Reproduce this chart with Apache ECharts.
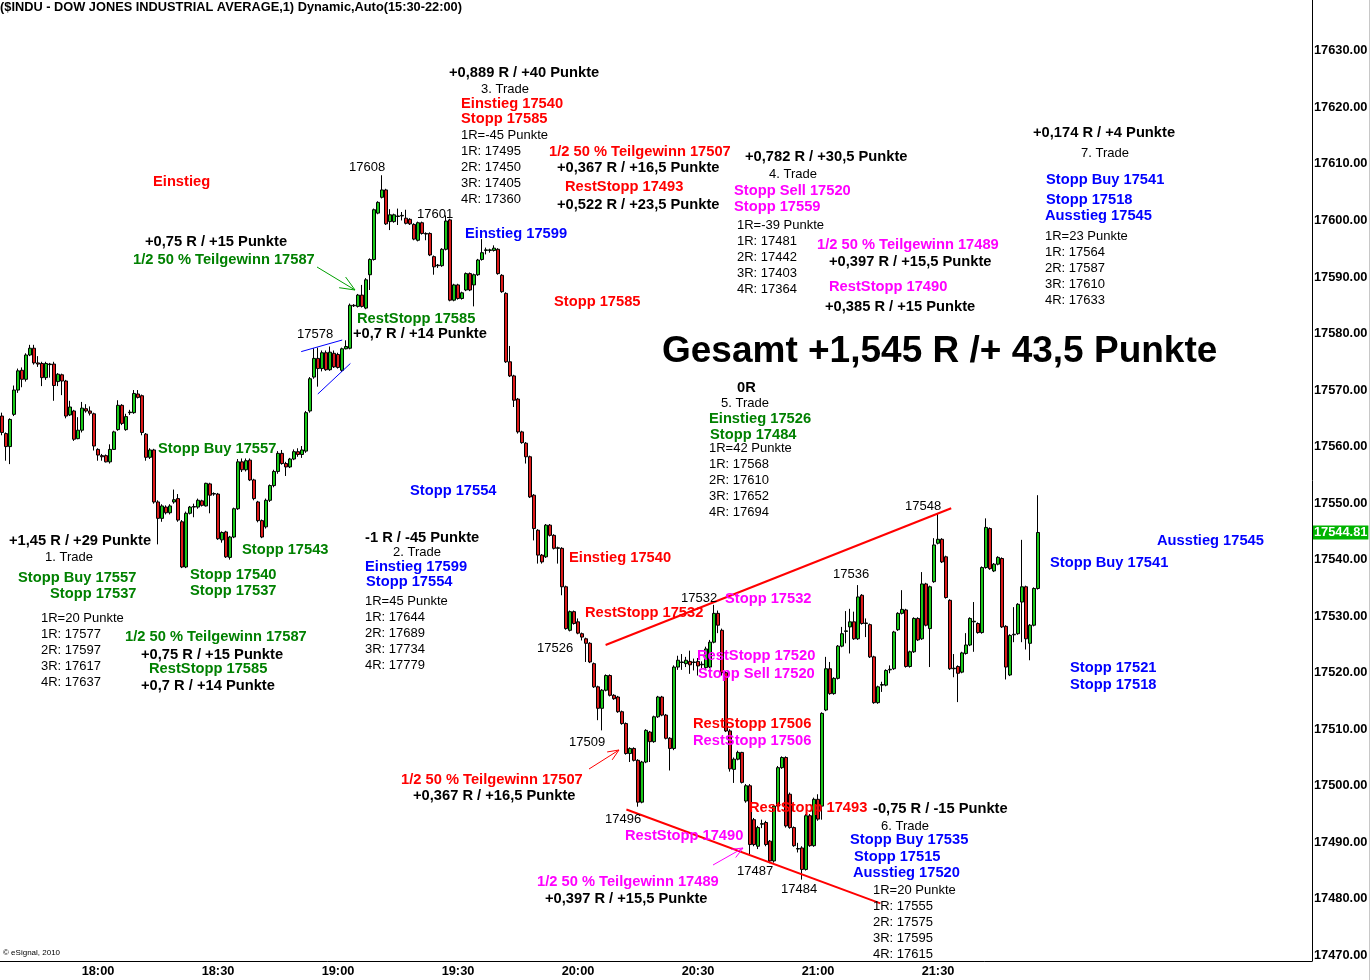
<!DOCTYPE html>
<html><head><meta charset="utf-8">
<script src="https://cdn.jsdelivr.net/npm/echarts@6/dist/echarts.min.js"></script>
<style>html,body{margin:0;padding:0;background:#fff}#c{width:1371px;height:980px}</style>
</head><body><div id="c"></div>
<script>
// ---- time slots: one per minute from 17:36 to 23:03 ----
const startMinute = 17 * 60 + 36;
const slotCount = 328;
const categories = [];
for (let i = 0; i < slotCount; i++) {
  const m = startMinute + i;
  categories.push(String(Math.floor(m / 60)).padStart(2, '0') + ':' + String(m % 60).padStart(2, '0'));
}
const tickLabels = ['18:00', '18:30', '19:00', '19:30', '20:00', '20:30', '21:00', '21:30'];
const yTicks = [17470, 17480, 17490, 17500, 17510, 17520, 17530, 17540, 17550, 17560, 17570, 17580, 17590, 17600, 17610, 17620, 17630];

// ---- 1-minute candles: [open, close, low, high] ----
const candles = [
[17565.4,17562.5,17562.0,17566.0],[17562.3,17560.0,17557.5,17562.5],[17560.0,17564.8,17556.9,17565.0],[17565.7,17570.0,17565.4,17570.8],
[17570.0,17573.4,17569.5,17573.8],[17573.5,17571.9,17570.5,17574.0],[17571.9,17576.2,17571.5,17576.5],[17576.2,17577.4,17576.0,17578.0],
[17577.4,17574.8,17574.5,17578.0],[17574.8,17574.6,17574.1,17576.0],[17574.7,17572.2,17570.7,17575.0],[17572.2,17574.7,17571.8,17575.0],
[17574.5,17574.6,17572.2,17574.8],[17574.6,17570.8,17568.1,17575.0],[17571.5,17572.8,17570.7,17573.0],[17572.7,17571.6,17569.1,17572.9],
[17571.6,17565.4,17565.0,17571.8],[17565.6,17567.0,17565.4,17568.1],[17566.3,17561.3,17561.0,17566.5],[17561.4,17562.9,17561.3,17565.2],
[17562.9,17566.8,17562.5,17567.9],[17566.7,17566.3,17566.0,17567.5],[17566.3,17565.9,17565.5,17567.1],[17565.8,17560.1,17559.3,17566.0],
[17559.5,17558.5,17557.5,17559.7],[17558.4,17558.2,17557.5,17558.7],[17558.4,17557.3,17557.2,17558.6],[17557.3,17559.5,17557.0,17560.4],
[17559.5,17562.6,17559.4,17562.8],[17563.0,17567.3,17562.8,17568.2],[17567.3,17564.1,17563.8,17567.5],[17563.0,17565.3,17562.8,17565.8],
[17566.0,17566.1,17565.6,17566.5],[17566.0,17569.4,17565.8,17570.0],[17569.3,17568.7,17568.5,17570.0],[17569.0,17562.5,17562.0,17569.2],
[17562.2,17558.1,17557.5,17562.4],[17558.1,17559.4,17557.8,17559.7],[17559.4,17550.2,17549.9,17559.6],[17550.2,17547.3,17542.7,17550.5],
[17547.3,17549.5,17546.7,17549.8],[17549.3,17548.3,17548.0,17549.6],[17548.3,17549.5,17548.0,17549.8],[17550.2,17550.6,17549.9,17552.4],
[17550.8,17547.0,17546.7,17551.6],[17546.7,17538.7,17538.5,17547.0],[17538.7,17548.2,17538.5,17548.5],[17548.2,17549.3,17548.0,17549.5],
[17549.3,17549.4,17547.5,17549.9],[17549.3,17550.5,17549.0,17550.8],[17550.4,17549.6,17549.4,17550.6],[17549.5,17553.5,17549.4,17553.6],
[17553.4,17551.4,17548.2,17553.6],[17551.6,17551.7,17551.3,17551.9],[17551.6,17543.7,17543.5,17551.8],[17543.5,17544.8,17543.0,17545.0],
[17544.9,17540.5,17540.3,17545.1],[17540.4,17544.0,17540.0,17544.2],[17544.0,17549.0,17543.8,17549.2],[17549.0,17557.3,17548.8,17557.8],
[17557.3,17555.9,17555.5,17557.9],[17555.9,17557.5,17555.6,17557.9],[17557.6,17554.1,17553.9,17557.9],[17554.1,17550.8,17550.5,17554.3],
[17550.2,17546.9,17546.6,17550.4],[17546.9,17544.0,17543.8,17547.1],[17545.8,17550.5,17545.5,17550.8],[17550.5,17553.1,17550.2,17553.3],
[17553.1,17555.6,17552.8,17555.9],[17555.6,17558.8,17555.2,17559.2],[17558.8,17557.0,17556.8,17559.4],[17557.0,17556.4,17554.8,17557.3],
[17556.4,17557.8,17556.2,17558.0],[17557.8,17559.1,17557.6,17559.5],[17559.1,17558.6,17558.2,17559.7],[17558.6,17559.4,17558.0,17560.1],
[17559.2,17566.0,17558.9,17566.3],[17566.3,17572.0,17566.0,17572.3],[17572.3,17575.6,17572.0,17577.4],[17575.6,17573.8,17570.6,17577.5],
[17573.8,17576.6,17573.3,17577.0],[17576.6,17573.6,17573.4,17577.0],[17573.6,17576.7,17573.4,17577.7],[17576.5,17574.1,17573.9,17577.0],
[17576.3,17574.0,17573.8,17576.6],[17573.5,17577.3,17573.2,17577.5],[17577.3,17577.7,17577.2,17578.8],[17577.4,17585.0,17577.2,17585.3],
[17585.0,17584.9,17584.7,17585.2],[17584.8,17586.8,17584.6,17587.0],[17586.8,17584.8,17584.6,17588.6],[17584.5,17589.5,17584.3,17589.8],
[17590.4,17593.1,17587.7,17593.3],[17593.1,17601.9,17592.9,17602.1],[17601.3,17603.2,17601.1,17603.4],[17604.1,17605.4,17603.9,17608.0],
[17605.4,17599.4,17599.2,17605.6],[17599.8,17601.0,17598.3,17602.0],[17599.8,17601.0,17599.6,17601.2],[17600.7,17600.8,17599.2,17602.1],
[17600.8,17600.9,17600.0,17601.5],[17600.4,17599.5,17599.3,17601.9],[17600.2,17599.4,17599.2,17600.4],[17599.3,17596.7,17596.5,17599.5],
[17596.5,17599.6,17596.3,17599.8],[17599.6,17597.7,17597.5,17599.8],[17597.7,17597.6,17596.5,17597.9],[17597.7,17593.9,17593.7,17597.9],
[17593.6,17591.8,17590.4,17593.8],[17592.0,17592.1,17591.6,17592.3],[17592.0,17594.9,17591.8,17595.1],[17594.9,17599.9,17594.7,17600.9],
[17600.1,17585.9,17585.7,17600.3],[17585.9,17588.6,17585.7,17588.8],[17588.6,17586.2,17586.0,17588.8],[17586.2,17587.2,17586.0,17587.4],
[17587.7,17590.6,17587.5,17590.8],[17590.6,17587.7,17587.5,17590.8],[17588.6,17590.4,17584.8,17590.6],[17590.4,17593.0,17590.2,17593.2],
[17593.1,17594.3,17592.9,17596.7],[17594.7,17594.8,17594.0,17595.2],[17594.7,17594.8,17594.3,17595.0],[17594.7,17595.1,17594.5,17595.6],
[17594.9,17590.6,17590.4,17595.1],[17590.3,17587.4,17587.2,17590.5],[17587.1,17575.0,17574.8,17587.3],[17575.0,17572.5,17572.3,17577.8],
[17572.5,17568.2,17567.0,17572.7],[17568.4,17562.6,17562.3,17568.6],[17562.6,17560.7,17560.5,17562.8],[17560.6,17558.2,17557.0,17560.8],
[17558.2,17551.1,17550.9,17558.4],[17551.4,17545.5,17543.4,17551.6],[17545.2,17540.8,17539.3,17545.4],[17540.8,17539.6,17539.3,17541.0],
[17540.5,17546.1,17540.3,17546.3],[17546.1,17544.3,17544.1,17546.3],[17544.3,17542.0,17541.8,17544.5],[17542.0,17542.1,17539.3,17542.3],
[17542.0,17535.2,17533.7,17542.2],[17535.2,17527.8,17527.6,17535.4],[17527.5,17530.8,17527.3,17531.0],[17530.8,17528.7,17528.5,17531.0],
[17529.0,17527.0,17526.8,17529.6],[17526.9,17526.3,17525.7,17527.1],[17526.0,17525.2,17521.9,17526.2],[17525.2,17521.9,17521.7,17525.4],
[17521.6,17517.5,17517.3,17521.8],[17517.5,17513.7,17511.6,17517.7],[17513.7,17516.9,17509.8,17517.1],[17516.9,17519.5,17516.7,17519.7],
[17519.5,17516.0,17515.8,17519.7],[17516.0,17515.4,17515.2,17516.2],[17515.7,17513.1,17512.9,17515.9],[17513.1,17511.0,17510.8,17513.3],
[17511.0,17505.7,17505.5,17511.2],[17505.7,17506.6,17504.2,17506.8],[17506.6,17504.5,17504.3,17506.8],[17504.5,17497.1,17496.3,17504.7],
[17497.1,17504.2,17496.9,17504.4],[17504.2,17509.8,17504.0,17510.0],[17509.5,17507.8,17504.2,17509.7],[17507.8,17512.2,17507.6,17512.4],
[17512.2,17515.7,17512.0,17515.9],[17515.7,17512.5,17512.3,17515.9],[17512.5,17508.4,17508.2,17512.7],[17508.4,17506.6,17502.7,17508.6],
[17506.6,17521.0,17506.3,17521.3],[17521.0,17522.2,17520.5,17523.0],[17521.8,17521.9,17520.5,17523.3],[17521.6,17522.2,17521.0,17522.8],
[17522.0,17521.4,17519.8,17523.9],[17521.8,17521.9,17520.4,17522.5],[17522.0,17521.2,17519.5,17522.6],[17521.4,17521.5,17520.8,17522.0],
[17520.9,17524.2,17520.7,17524.6],[17521.0,17525.4,17520.8,17525.8],[17525.4,17530.5,17525.2,17532.0],[17530.5,17528.4,17527.0,17531.0],
[17527.5,17520.0,17519.5,17527.8],[17520.0,17509.7,17509.5,17520.3],[17509.7,17503.0,17502.5,17510.0],[17502.9,17504.7,17500.5,17505.0],
[17504.7,17505.9,17504.5,17506.2],[17505.9,17500.6,17500.4,17506.0],[17497.3,17500.0,17497.0,17500.3],[17500.0,17489.6,17487.9,17500.3],
[17494.0,17489.6,17489.3,17494.3],[17489.3,17492.6,17488.8,17492.9],[17493.2,17493.3,17492.5,17494.0],[17493.5,17489.6,17489.3,17493.8],
[17490.2,17486.7,17486.3,17490.4],[17486.7,17496.4,17486.4,17496.7],[17496.4,17503.2,17496.2,17503.5],[17503.2,17505.0,17503.0,17505.2],
[17505.0,17492.9,17492.6,17505.2],[17498.5,17492.6,17492.4,17498.8],[17492.6,17489.4,17489.2,17492.8],[17488.8,17488.9,17488.2,17489.9],
[17489.0,17485.2,17483.4,17489.3],[17485.2,17494.7,17485.0,17495.0],[17494.7,17489.4,17489.2,17495.0],[17489.4,17497.6,17489.2,17497.9],
[17497.6,17494.1,17493.8,17498.5],[17496.4,17512.8,17494.0,17513.0],[17513.4,17520.7,17513.2,17522.8],[17520.7,17516.3,17516.1,17521.9],
[17516.3,17519.0,17516.1,17519.2],[17519.0,17524.7,17518.8,17524.9],[17524.7,17526.9,17524.5,17528.1],[17527.3,17527.4,17525.2,17530.9],
[17528.1,17529.0,17523.4,17531.3],[17529.0,17526.0,17525.8,17530.8],[17526.0,17533.4,17525.8,17535.5],[17533.7,17528.7,17528.5,17533.9],
[17528.7,17528.8,17526.3,17529.6],[17528.5,17522.8,17522.6,17528.7],[17522.8,17514.7,17514.5,17523.0],[17514.7,17517.5,17514.5,17517.7],
[17517.8,17517.9,17516.6,17518.4],[17517.8,17520.4,17517.6,17520.6],[17520.5,17520.6,17519.9,17521.3],[17520.7,17527.2,17520.5,17527.4],
[17527.6,17530.5,17527.4,17530.7],[17530.5,17531.2,17530.3,17534.6],[17531.1,17521.1,17520.9,17531.3],[17521.1,17523.7,17520.9,17523.9],
[17523.7,17529.6,17523.5,17529.8],[17529.6,17525.8,17525.6,17529.8],[17526.0,17535.7,17525.8,17537.8],[17535.7,17528.4,17528.2,17535.9],
[17527.8,17535.2,17521.0,17535.4],[17536.1,17542.6,17535.9,17543.8],[17542.9,17543.6,17542.7,17548.2],[17543.6,17539.6,17539.4,17543.8],
[17540.5,17533.3,17533.1,17540.7],[17532.8,17520.7,17520.5,17533.0],[17520.7,17520.8,17519.2,17523.3],[17521.1,17519.9,17514.8,17521.3],
[17520.1,17523.5,17519.9,17523.7],[17523.4,17524.9,17523.2,17527.0],[17524.9,17529.6,17524.7,17529.8],[17529.0,17529.1,17523.7,17532.5],
[17528.7,17527.1,17526.9,17528.9],[17527.1,17538.6,17526.9,17538.8],[17538.6,17545.7,17538.4,17547.3],[17545.5,17538.4,17538.2,17545.7],
[17538.0,17539.2,17537.8,17539.4],[17539.2,17540.4,17539.0,17540.6],[17540.2,17528.1,17527.9,17540.4],[17528.2,17521.0,17518.8,17528.4],
[17519.6,17526.6,17519.4,17526.8],[17526.7,17526.8,17525.4,17531.6],[17526.9,17532.1,17526.7,17532.3],[17532.5,17535.2,17525.4,17543.5],
[17535.2,17526.0,17524.1,17535.4],[17525.2,17528.4,17522.2,17528.6],[17528.4,17534.9,17528.2,17535.1],[17534.9,17544.8,17534.7,17551.4]
];
const lastPrice = 17544.81;

// ---- drawn trend lines: [slot index, price] ----
const upperTrend = [[150.9, 17524.9], [237.3, 17549.1]];
const lowerTrend = [[156.1, 17495.8], [219.6, 17479.2]];
const triangleUpper = [[74.8, 17576.8], [85.05, 17578.85]];
const triangleLower = [[78.95, 17569.3], [87.1, 17574.7]];

// ---- text annotations ----
const notes = [
['+0,889 R / +40 Punkte',449,72,'k','b'],['3. Trade',481,88,'k','n'],['Einstieg 17540',461,103,'r','b'],['Stopp 17585',461,118,'r','b'],
['1R=-45 Punkte',461,134,'k','n'],['1R: 17495',461,150,'k','n'],['2R: 17450',461,166,'k','n'],['3R: 17405',461,182,'k','n'],['4R: 17360',461,198,'k','n'],
['1/2 50 % Teilgewinn 17507',549,151,'r','b'],['+0,367 R / +16,5 Punkte',557,167,'k','b'],['RestStopp 17493',565,186,'r','b'],['+0,522 R / +23,5 Punkte',557,204,'k','b'],
['Einstieg',153,181,'r','b'],['+0,75 R / +15 Punkte',145,241,'k','b'],['1/2 50 % Teilgewinn 17587',133,259,'g','b'],
['17608',349,166,'k','n'],['17601',417,213,'k','n'],['Einstieg 17599',465,233,'b','b'],['Stopp 17585',554,301,'r','b'],
['17578',297,333,'k','n'],['RestStopp 17585',357,318,'g','b'],['+0,7 R / +14 Punkte',353,333,'k','b'],
['+0,782 R / +30,5 Punkte',745,156,'k','b'],['4. Trade',769,173,'k','n'],['Stopp Sell 17520',734,190,'m','b'],['Stopp 17559',734,206,'m','b'],
['1R=-39 Punkte',737,224,'k','n'],['1R: 17481',737,240,'k','n'],['2R: 17442',737,256,'k','n'],['3R: 17403',737,272,'k','n'],['4R: 17364',737,288,'k','n'],
['1/2 50 % Teilgewinn 17489',817,244,'m','b'],['+0,397 R / +15,5 Punkte',829,261,'k','b'],['RestStopp 17490',829,286,'m','b'],['+0,385 R / +15 Punkte',825,306,'k','b'],
['+0,174 R / +4 Punkte',1033,132,'k','b'],['7. Trade',1081,152,'k','n'],['Stopp Buy 17541',1046,179,'b','b'],['Stopp 17518',1046,199,'b','b'],
['Ausstieg 17545',1045,215,'b','b'],['1R=23 Punkte',1045,235,'k','n'],['1R: 17564',1045,251,'k','n'],['2R: 17587',1045,267,'k','n'],
['3R: 17610',1045,283,'k','n'],['4R: 17633',1045,299,'k','n'],
['Gesamt +1,545 R /+ 43,5 Punkte',662,351,'k','h'],
['0R',737,387,'k','b'],['5. Trade',721,402,'k','n'],['Einstieg 17526',709,418,'g','b'],['Stopp 17484',710,434,'g','b'],
['1R=42 Punkte',709,447,'k','n'],['1R: 17568',709,463,'k','n'],['2R: 17610',709,479,'k','n'],['3R: 17652',709,495,'k','n'],['4R: 17694',709,511,'k','n'],
['Stopp Buy 17557',158,448,'g','b'],['Stopp 17554',410,490,'b','b'],
['+1,45 R / +29 Punkte',9,540,'k','b'],['1. Trade',45,556,'k','n'],['Stopp Buy 17557',18,577,'g','b'],['Stopp 17537',50,593,'g','b'],
['1R=20 Punkte',41,617,'k','n'],['1R: 17577',41,633,'k','n'],['2R: 17597',41,649,'k','n'],['3R: 17617',41,665,'k','n'],['4R: 17637',41,681,'k','n'],
['Stopp 17543',242,549,'g','b'],['Stopp 17540',190,574,'g','b'],['Stopp 17537',190,590,'g','b'],
['1/2 50 % Teilgewinn 17587',125,636,'g','b'],['+0,75 R / +15 Punkte',141,654,'k','b'],['RestStopp 17585',149,668,'g','b'],['+0,7 R / +14 Punkte',141,685,'k','b'],
['-1 R / -45 Punkte',365,537,'k','b'],['2. Trade',393,551,'k','n'],['Einstieg 17599',365,566,'b','b'],['Stopp 17554',366,581,'b','b'],
['1R=45 Punkte',365,600,'k','n'],['1R: 17644',365,616,'k','n'],['2R: 17689',365,632,'k','n'],['3R: 17734',365,648,'k','n'],['4R: 17779',365,664,'k','n'],
['Einstieg 17540',569,557,'r','b'],['RestStopp 17532',585,612,'r','b'],['17526',537,647,'k','n'],['17532',681,597,'k','n'],['Stopp 17532',725,598,'m','b'],
['RestStopp 17520',697,655,'m','b'],['Stopp Sell 17520',698,673,'m','b'],['RestStopp 17506',693,723,'r','b'],['RestStopp 17506',693,740,'m','b'],
['17509',569,741,'k','n'],['1/2 50 % Teilgewinn 17507',401,779,'r','b'],['+0,367 R / +16,5 Punkte',413,795,'k','b'],['17496',605,818,'k','n'],
['RestStopp 17490',625,835,'m','b'],['1/2 50 % Teilgewinn 17489',537,881,'m','b'],['+0,397 R / +15,5 Punkte',545,898,'k','b'],
['17487',737,870,'k','n'],['17484',781,888,'k','n'],['RestStopp 17493',749,807,'r','b'],['-0,75 R / -15 Punkte',873,808,'k','b'],
['6. Trade',881,825,'k','n'],['Stopp Buy 17535',850,839,'b','b'],['Stopp 17515',854,856,'b','b'],['Ausstieg 17520',853,872,'b','b'],
['1R=20 Punkte',873,889,'k','n'],['1R: 17555',873,905,'k','n'],['2R: 17575',873,921,'k','n'],['3R: 17595',873,937,'k','n'],['4R: 17615',873,953,'k','n'],
['17536',833,573,'k','n'],['17548',905,505,'k','n'],
['Ausstieg 17545',1157,540,'b','b'],['Stopp Buy 17541',1050,562,'b','b'],['Stopp 17521',1070,667,'b','b'],['Stopp 17518',1070,684,'b','b']
];
// arrows: [tailX, tailY, headX, headY, color, headLen]
const arrows = [
[317, 267, 355, 290, '#00a000', 16],
[589, 769, 619, 750, '#ff0000', 12],
[713, 865, 743, 848, '#ff00ff', 12]
];

const FONT = '"Liberation Sans", Arial, sans-serif';
const COLORS = { k: '#000000', r: '#ff0000', g: '#008000', b: '#0000ff', m: '#ff00ff' };
const FONTS = {
  b: 'bold 14.7px ' + FONT,
  n: '13px ' + FONT,
  h: 'bold 37px ' + FONT
};
const TEXT_NUDGE = 1;

const graphics = [];
notes.forEach(([t, x, y, c, k]) => {
  graphics.push({ type: 'text', x: x, y: y + TEXT_NUDGE, z: 100, silent: true,
    style: { text: t, fill: COLORS[c], font: FONTS[k], align: 'left', verticalAlign: 'middle' } });
});
arrows.forEach(([x1, y1, x2, y2, col, hl]) => {
  const ang = Math.atan2(y1 - y2, x1 - x2);
  const a1 = ang + 0.4, a2 = ang - 0.4;
  graphics.push({ type: 'line', z: 90, silent: true, shape: { x1, y1, x2, y2 }, style: { stroke: col, lineWidth: 1 } });
  graphics.push({ type: 'polyline', z: 90, silent: true,
    shape: { points: [[x2 + hl * Math.cos(a1), y2 + hl * Math.sin(a1)], [x2, y2], [x2 + hl * Math.cos(a2), y2 + hl * Math.sin(a2)]] },
    style: { stroke: col, lineWidth: 1, fill: null } });
});
graphics.push({ type: 'text', x: 0, y: 7, z: 100, silent: true,
  style: { text: '($INDU - DOW JONES INDUSTRIAL AVERAGE,1) Dynamic,Auto(15:30-22:00)', fill: '#000', font: 'bold 12.8px ' + FONT, align: 'left', verticalAlign: 'middle' } });
graphics.push({ type: 'text', x: 3, y: 953, z: 100, silent: true,
  style: { text: '\u00a9 eSignal, 2010', fill: '#000', font: '8px ' + FONT, align: 'left', verticalAlign: 'middle' } });
graphics.push({ type: 'line', z: 50, silent: true, shape: { x1: 1369.5, y1: 0, x2: 1369.5, y2: 980 }, style: { stroke: '#c8c8c8', lineWidth: 1 } });

const chart = echarts.init(document.getElementById('c'), null, { renderer: 'canvas' });

function trendSeries(name, pts, color, width) {
  return { name, type: 'line', xAxisIndex: 1, yAxisIndex: 0, data: pts, symbol: 'none', silent: true,
    lineStyle: { color, width }, z: 5, animation: false };
}

chart.setOption({
  animation: false,
  backgroundColor: '#ffffff',
  grid: { left: 0, right: 59, top: 0, bottom: 19, containLabel: false },
  xAxis: [
    { type: 'category', data: categories, boundaryGap: true,
      axisLine: { show: true, onZero: false, lineStyle: { color: '#000', width: 1 } },
      axisTick: { show: false }, splitLine: { show: false },
      axisLabel: { interval: (i, v) => tickLabels.indexOf(v) >= 0, color: '#000', fontWeight: 'bold', fontSize: 12.8, fontFamily: FONT, margin: 4 } },
    { type: 'value', min: -0.5, max: slotCount - 0.5, show: false }
  ],
  yAxis: { type: 'value', position: 'right', min: 17469, max: 17639, scale: true,
    axisLine: { show: true, onZero: false, lineStyle: { color: '#000', width: 1 } },
    axisTick: { show: false }, splitLine: { show: false },
    axisLabel: { customValues: yTicks, color: '#000', fontWeight: 'bold', fontSize: 12.8, fontFamily: FONT, margin: 2,
      lineHeight: 16, padding: [3, 0, 0, 0],
      formatter: v => Number(v).toFixed(2) } },
  series: [
    { type: 'candlestick', data: candles, barWidth: 3, z: 3,
      itemStyle: { color: '#18c818', color0: '#dd1a1a', borderColor: '#000', borderColor0: '#000', borderWidth: 1 } },
    trendSeries('upper', upperTrend, '#ff0000', 2),
    trendSeries('lower', lowerTrend, '#ff0000', 2),
    trendSeries('triU', triangleUpper, '#0000ff', 1),
    trendSeries('triL', triangleLower, '#0000ff', 1)
  ],
  graphic: graphics
});

// current price tag on the right axis, positioned through the y scale
const tagY = chart.convertToPixel({ yAxisIndex: 0 }, lastPrice);
graphics.push({ type: 'text', x: 1313, y: tagY, z: 110, silent: true,
  style: { text: lastPrice.toFixed(2), fill: '#ffffff', font: 'bold 12.8px ' + FONT, align: 'left', verticalAlign: 'middle',
    backgroundColor: '#00b400', padding: [1, 1, 0, 1] } });
chart.setOption({ graphic: graphics }, { replaceMerge: ['graphic'] });
</script>
</body></html>
